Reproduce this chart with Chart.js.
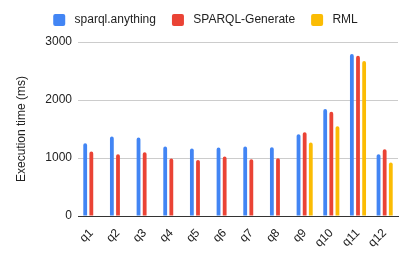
<!DOCTYPE html>
<html lang="en">
<head>
<meta charset="UTF-8">
<title>Execution time</title>
<style>
  html, body { margin: 0; padding: 0; background: #fff; }
  #wrap { width: 411px; height: 255px; }
</style>
</head>
<body>
<div id="wrap"><canvas id="chart" width="411" height="255"></canvas></div>
<script src="https://cdn.jsdelivr.net/npm/chart.js"></script>
<script>
  // queries on the x axis
  const queries = ['q1', 'q2', 'q3', 'q4', 'q5', 'q6', 'q7', 'q8', 'q9', 'q10', 'q11', 'q12'];
  // execution time in ms
  const sparqlAnything = [1256, 1370, 1352, 1197, 1162, 1180, 1197, 1187, 1411, 1843, 2793, 1066];
  const sparqlGenerate = [1111, 1066, 1100, 990, 967, 1024, 979, 997, 1446, 1796, 2763, 1152];
  const rml = [null, null, null, null, null, null, null, null, 1266, 1549, 2672, 921];
  const yTicks = [0, 1000, 2000, 3000];

  const font = { family: '"Liberation Sans", Arial, sans-serif', size: 12 };
  Chart.defaults.font = font;
  Chart.defaults.color = '#222';

  function series(label, data, color) {
    return {
      label, data,
      backgroundColor: color,
      borderWidth: 0,
      borderRadius: { topLeft: 2, topRight: 2 },
      borderSkipped: 'bottom',
      categoryPercentage: 0.69,
      barPercentage: 0.62
    };
  }

  // keep the legend band a fixed height so the plot starts where it should
  const legendHeight = {
    id: 'legendHeight',
    beforeLayout(chart) {
      const lg = chart.legend;
      if (lg && !lg._fixed) {
        const fit = lg.fit;
        lg.fit = function () { fit.call(this); this.height = 44; };
        lg._fixed = true;
      }
    }
  };

  new Chart(document.getElementById('chart'), {
    type: 'bar',
    data: {
      labels: queries,
      datasets: [
        series('sparql.anything', sparqlAnything, '#4285F4'),
        series('SPARQL-Generate', sparqlGenerate, '#EA4335'),
        series('RML', rml, '#FBBC04')
      ]
    },
    plugins: [legendHeight],
    options: {
      responsive: false,
      animation: false,
      layout: { padding: { left: 0, right: 0, top: -2, bottom: 0 } },
      plugins: {
        tooltip: { enabled: false },
        legend: {
          position: 'top',
          labels: {
            boxWidth: 12, boxHeight: 12,
            useBorderRadius: true, borderRadius: 2,
            padding: 16,
            color: '#222',
            font: { family: font.family, size: 12 },
            generateLabels: chart => Chart.defaults.plugins.legend.labels.generateLabels(chart)
              .map(l => Object.assign(l, { text: ' ' + l.text }))
          }
        }
      },
      scales: {
        x: {
          grid: { display: false },
          border: { color: '#333', width: 1 },
          ticks: { minRotation: 45, maxRotation: 45, color: '#222', padding: 2 },
          afterFit: s => { s.height = 39; }
        },
        y: {
          min: 0, max: 3000,
          afterBuildTicks: s => { s.ticks = yTicks.map(v => ({ value: v })); },
          grid: { color: '#ccc', drawTicks: false },
          border: { display: false },
          ticks: { color: '#222', padding: 6, callback: v => String(v) },
          title: {
            display: true, text: 'Execution time (ms)', color: '#222',
            font: { family: font.family, size: 12 },
            padding: { top: 14, bottom: 4 }
          },
          afterFit: s => { s.width = 78; }
        },
        // empty strip on the right, keeps the legend centred on the canvas
        right: {
          position: 'right',
          grid: { display: false },
          border: { display: false },
          ticks: { display: false },
          afterFit: s => { s.width = 13; }
        }
      }
    }
  });
</script>
</body>
</html>
